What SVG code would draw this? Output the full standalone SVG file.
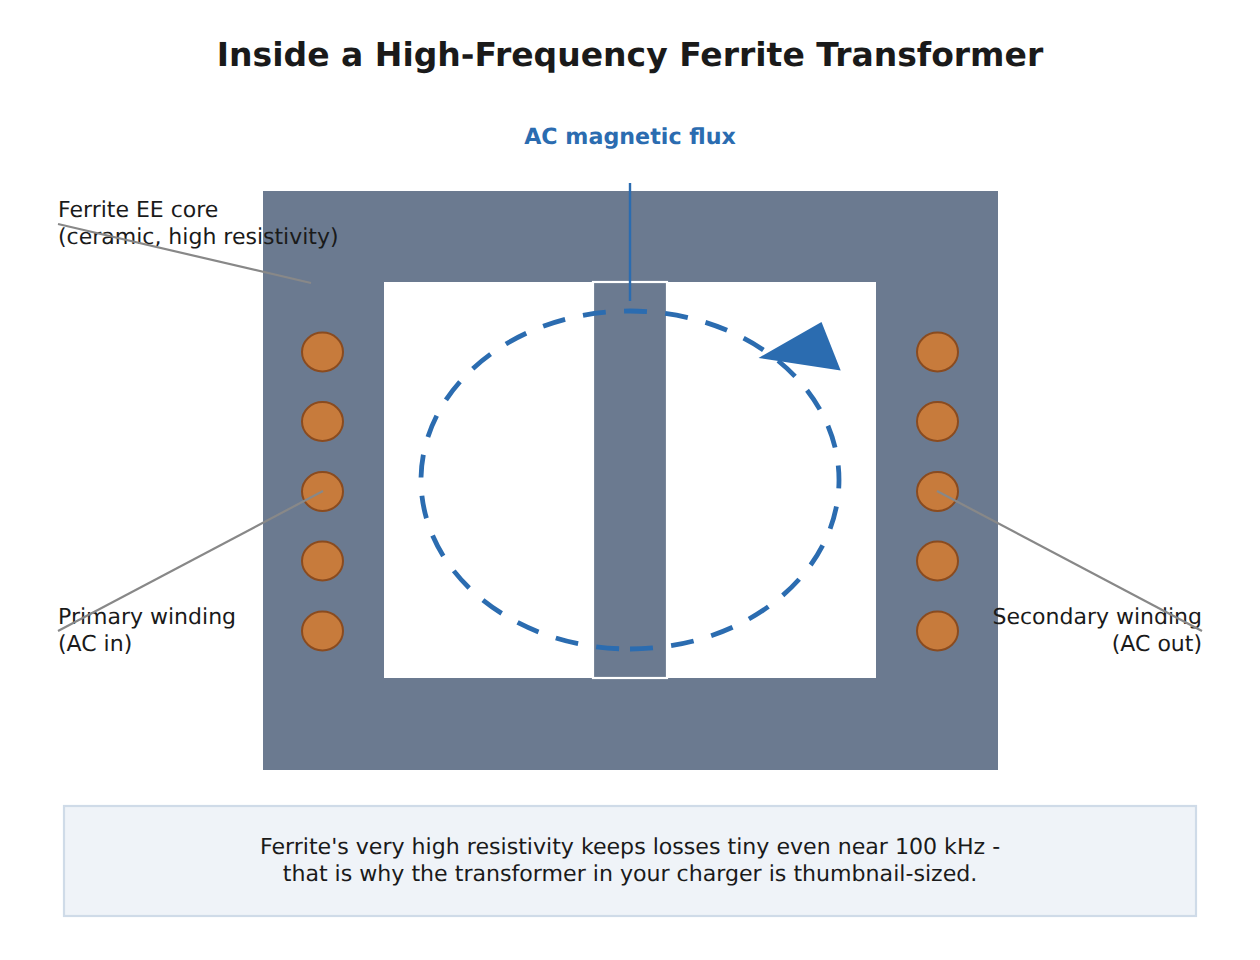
<svg xmlns="http://www.w3.org/2000/svg" width="1260" height="960" viewBox="0 0 1260 960">
<style>
text{font-family:"DejaVu Sans",Verdana,sans-serif;fill:#1a1a1a;text-rendering:geometricPrecision}
.lab{font-size:22px}
.note{font-size:22.100px}
.coil{fill:#c77b3c;stroke:#8a4b1f;stroke-width:2}
.lead{stroke:#888;stroke-width:2.200;fill:none}
.m{text-anchor:middle}
.e{text-anchor:end}
</style>
<rect width="1260" height="960" fill="#fff"/>
<text id="title" class="m" x="630" y="65.500" font-size="33" font-weight="700">Inside a High-Frequency Ferrite Transformer</text>
<g id="core">
<rect x="263" y="191" width="735" height="579" fill="#6b7a90"/>
<rect x="384" y="282" width="492" height="396" fill="#fff"/>
<rect x="593" y="282" width="74" height="396" fill="#6b7a90" stroke="#fff" stroke-width="2.200"/>
</g>
<g id="primary-winding">
<ellipse class="coil" cx="322.500" cy="352" rx="20.500" ry="19.400"/>
<ellipse class="coil" cx="322.500" cy="421.500" rx="20.500" ry="19.400"/>
<ellipse class="coil" cx="322.500" cy="491.500" rx="20.500" ry="19.400"/>
<ellipse class="coil" cx="322.500" cy="561" rx="20.500" ry="19.400"/>
<ellipse class="coil" cx="322.500" cy="631" rx="20.500" ry="19.400"/>
</g>
<g id="secondary-winding">
<ellipse class="coil" cx="937.500" cy="352" rx="20.500" ry="19.400"/>
<ellipse class="coil" cx="937.500" cy="421.500" rx="20.500" ry="19.400"/>
<ellipse class="coil" cx="937.500" cy="491.500" rx="20.500" ry="19.400"/>
<ellipse class="coil" cx="937.500" cy="561" rx="20.500" ry="19.400"/>
<ellipse class="coil" cx="937.500" cy="631" rx="20.500" ry="19.400"/>
</g>
<g id="flux">
<path d="M630 649A209 169 0 0 0 839 480A209 169 0 0 0 630 311A209 169 0 0 0 421 480A209 169 0 0 0 630 649" fill="none" stroke="#2b6cb0" stroke-width="4.800" stroke-dasharray="23 18.300"/>
<polygon points="758.500,358 821.500,322 840.700,370.500" fill="#2b6cb0"/>
<text class="m" x="630" y="143.500" font-size="22.200" font-weight="700" style="fill:#2b6cb0">AC magnetic flux</text>
</g>
<g id="label-core"><text class="lab" x="58" y="217">Ferrite EE core</text><text class="lab" x="58" y="244">(ceramic, high resistivity)</text></g>
<g id="label-primary"><text class="lab" x="58" y="624">Primary winding</text><text class="lab" x="58" y="651">(AC in)</text></g>
<g id="label-secondary"><text class="lab e" x="1202" y="624">Secondary winding</text><text class="lab e" x="1202" y="651">(AC out)</text></g>
<g id="connectors">
<line x1="630" y1="183" x2="630" y2="301" stroke="#2b6cb0" stroke-width="2.400"/>
<line class="lead" x1="58" y1="224" x2="311" y2="283"/>
<line class="lead" x1="58" y1="631" x2="323" y2="491"/>
<line class="lead" x1="1202" y1="631" x2="937" y2="491"/>
</g>
<g id="note">
<rect x="64" y="806" width="1132" height="110" fill="#eff3f8" stroke="#cfdbe8" stroke-width="2.200"/>
<text class="note m" x="630" y="854">Ferrite's very high resistivity keeps losses tiny even near 100 kHz -</text>
<text class="note m" x="630" y="881">that is why the transformer in your charger is thumbnail-sized.</text>
</g>
</svg>
